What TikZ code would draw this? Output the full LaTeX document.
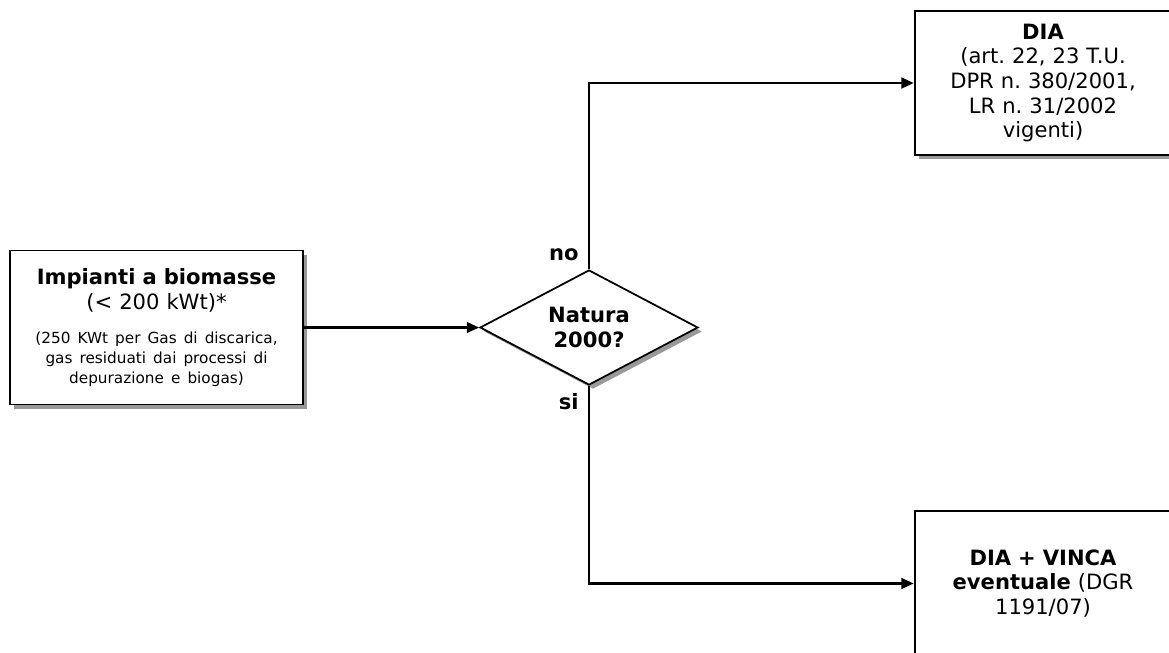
\documentclass[tikz,border=0pt]{standalone}
\usepackage{fontspec}
\setmainfont{DejaVu Sans}
\usetikzlibrary{shapes.geometric,shadows,arrows.meta}
\frenchspacing

\begin{document}
\begin{tikzpicture}[
   box/.style={rectangle,draw,line width=1pt,fill=white,align=center,
    drop shadow={shadow xshift=0.08cm,shadow yshift=-0.08cm,fill=gray!80,opacity=1},
    font=\fontsize{12}{14}\selectfont},
   decision/.style={diamond,draw,line width=1pt,fill=white,aspect=1.9,
    inner sep=0pt,minimum width=4.36cm,minimum height=2.3cm,align=center,
    drop shadow={shadow xshift=0.08cm,shadow yshift=-0.08cm,fill=gray!80,opacity=1},
    font=\bfseries\fontsize{12}{14}\selectfont},
   lbl/.style={font=\bfseries\fontsize{12}{14}\selectfont,inner sep=0pt},
   link/.style={line width=1.4pt,-{Triangle[length=7pt,width=6pt]}}
    ]
  \clip (0,0) rectangle (23.38,-13.04);

  % -- start and test
  \node[box,minimum width=5.86cm,minimum height=3.08cm,text width=5.6cm] at (3.13,-6.55) (imp)
    {\textbf{Impianti a biomasse}\\(< 200 kWt)*\par\vspace{8pt}
     {\fontsize{8.7}{11.4}\selectfont (250 KWt per Gas di discarica,\\gas residuati dai processi di\\depurazione e biogas)\par}};
  \node[decision] at (11.78,-6.55) (nat) {Natura\\2000?};

  % -- outcomes
  \node[box,minimum width=5.0cm,minimum height=2.88cm,text width=4.9cm] at (20.86,-1.66) (dia)
    {\textbf{DIA}\\(art. 22, 23 T.U.\\DPR n. 380/2001,\\LR n. 31/2002\\vigenti)};
  \node[box,minimum width=5.0cm,minimum height=2.9cm,text width=4.9cm] at (20.86,-11.67) (vinca)
    {\textbf{DIA + VINCA}\\\textbf{eventuale} (DGR\\1191/07)};

  % -- labels
  \node[lbl,anchor=south east] at ([xshift=-0.2cm,yshift=0.15cm]nat.north) (no) {no};
  \node[lbl,anchor=north east] at ([xshift=-0.2cm,yshift=-0.15cm]nat.south) (si) {si};

  % -- links
  \draw[link] (imp.east) -- (nat.west);
  \draw[link] (nat.north) |- (dia.west);
  \draw[link] (nat.south) |- (vinca.west);
\end{tikzpicture}
\end{document}
